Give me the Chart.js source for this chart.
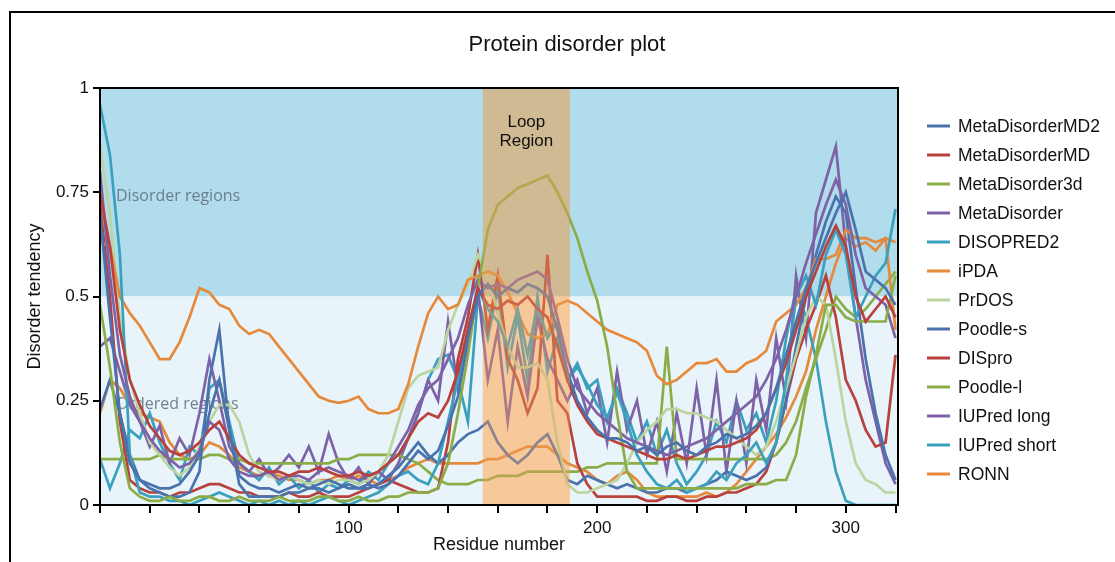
<!DOCTYPE html>
<html>
<head>
<meta charset="utf-8">
<script src="https://cdn.jsdelivr.net/npm/chart.js@4"></script>
<style>
  html, body { margin: 0; padding: 0; background: #fff; }
  #wrap { width: 1115px; height: 562px; position: relative; }
</style>
</head>
<body>
<div id="wrap"><canvas id="disorderChart"></canvas></div>
<script>
// residue positions (sampled every 4 residues)
const residues = [0,4,8,12,16,20,24,28,32,36, 40,44,48,52,56,60,64,68,72,76,
  80,84,88,92,96,100,104,108,112,116, 120,124,128,132,136,140,144,148,152,156,
  160,164,168,172,176,180,184,188,192,196, 200,204,208,212,216,220,224,228,232,236,
  240,244,248,252,256,260,264,268,272,276, 280,284,288,292,296,300,304,308,312,316, 320];

const metaDisorderMD2 = [0.70,0.45,0.22,0.10,0.06,0.05,0.04,0.04,0.05,0.08,
  0.12,0.22,0.30,0.18,0.07,0.05,0.04,0.04,0.03,0.04,
  0.05,0.04,0.05,0.06,0.05,0.04,0.04,0.05,0.04,0.05,
  0.07,0.10,0.13,0.11,0.13,0.19,0.26,0.40,0.50,0.53,
  0.50,0.52,0.51,0.53,0.52,0.50,0.42,0.32,0.25,0.21,
  0.18,0.16,0.16,0.15,0.13,0.14,0.12,0.14,0.15,0.13,
  0.12,0.14,0.15,0.17,0.16,0.17,0.19,0.22,0.28,0.36,
  0.44,0.52,0.58,0.64,0.70,0.75,0.66,0.56,0.54,0.52, 0.48];

const metaDisorderMD = [0.75,0.62,0.42,0.30,0.24,0.19,0.16,0.13,0.12,0.13,
  0.15,0.18,0.20,0.16,0.12,0.10,0.09,0.08,0.08,0.07,
  0.08,0.08,0.09,0.08,0.07,0.07,0.08,0.07,0.08,0.10,
  0.12,0.16,0.20,0.22,0.21,0.25,0.32,0.42,0.52,0.48,
  0.47,0.49,0.48,0.50,0.47,0.45,0.38,0.30,0.24,0.20,
  0.17,0.16,0.15,0.14,0.13,0.12,0.11,0.11,0.12,0.11,
  0.12,0.13,0.14,0.14,0.15,0.16,0.18,0.22,0.28,0.34,
  0.42,0.50,0.56,0.62,0.67,0.62,0.50,0.44,0.47,0.50, 0.45];

const metaDisorder3d = [0.48,0.33,0.15,0.04,0.02,0.01,0.01,0.02,0.01,0.01,
  0.02,0.02,0.01,0.01,0.02,0.01,0.01,0.01,0.02,0.01,
  0.01,0.01,0.02,0.02,0.01,0.01,0.02,0.01,0.01,0.02,
  0.02,0.03,0.03,0.03,0.04,0.10,0.22,0.36,0.52,0.66,
  0.72,0.74,0.76,0.77,0.78,0.79,0.75,0.70,0.64,0.56,
  0.49,0.38,0.22,0.08,0.04,0.04,0.04,0.04,0.04,0.04,
  0.04,0.04,0.04,0.04,0.04,0.05,0.05,0.05,0.06,0.06,
  0.12,0.26,0.36,0.48,0.48,0.45,0.44,0.44,0.44,0.44, 0.55];

const metaDisorder = [0.80,0.55,0.36,0.26,0.20,0.16,0.13,0.11,0.09,0.10,
  0.13,0.20,0.18,0.11,0.08,0.07,0.07,0.08,0.06,0.07,
  0.07,0.06,0.08,0.09,0.08,0.07,0.06,0.07,0.08,0.10,
  0.14,0.18,0.24,0.28,0.30,0.35,0.40,0.48,0.54,0.52,
  0.53,0.52,0.54,0.55,0.56,0.54,0.45,0.35,0.28,0.25,
  0.22,0.20,0.18,0.16,0.15,0.14,0.13,0.12,0.13,0.14,
  0.15,0.16,0.18,0.20,0.22,0.24,0.26,0.30,0.35,0.42,
  0.50,0.58,0.65,0.72,0.78,0.72,0.60,0.52,0.50,0.48, 0.40];

const disopred2 = [0.96,0.84,0.60,0.12,0.03,0.02,0.02,0.01,0.01,0.00,
  0.01,0.02,0.03,0.02,0.01,0.00,0.01,0.00,0.01,0.00,
  0.01,0.00,0.01,0.02,0.01,0.00,0.01,0.02,0.03,0.05,
  0.07,0.08,0.06,0.05,0.10,0.20,0.30,0.42,0.52,0.47,
  0.44,0.38,0.47,0.36,0.48,0.40,0.44,0.30,0.33,0.29,
  0.24,0.21,0.27,0.20,0.12,0.08,0.05,0.04,0.06,0.03,
  0.04,0.05,0.08,0.06,0.10,0.12,0.15,0.10,0.15,0.30,
  0.50,0.55,0.48,0.60,0.66,0.60,0.45,0.50,0.55,0.58, 0.71];

const iPDA = [0.63,0.62,0.50,0.46,0.43,0.39,0.35,0.35,0.39,0.45,
  0.52,0.51,0.48,0.47,0.43,0.41,0.42,0.41,0.38,0.35,
  0.32,0.29,0.26,0.25,0.245,0.25,0.26,0.23,0.22,0.22,
  0.23,0.29,0.38,0.46,0.50,0.47,0.48,0.54,0.55,0.56,
  0.55,0.51,0.46,0.41,0.40,0.41,0.48,0.49,0.48,0.46,
  0.44,0.42,0.41,0.40,0.39,0.37,0.31,0.29,0.30,0.32,
  0.34,0.34,0.35,0.32,0.32,0.34,0.35,0.37,0.44,0.46,
  0.48,0.52,0.59,0.59,0.60,0.66,0.64,0.64,0.63,0.64, 0.42];

const prDOS = [0.86,0.70,0.45,0.30,0.22,0.15,0.12,0.09,0.07,0.09,
  0.14,0.20,0.24,0.24,0.20,0.12,0.08,0.07,0.06,0.07,
  0.06,0.05,0.06,0.05,0.06,0.06,0.05,0.06,0.08,0.12,
  0.20,0.28,0.31,0.32,0.33,0.42,0.48,0.53,0.60,0.55,
  0.46,0.38,0.33,0.33,0.34,0.30,0.15,0.05,0.03,0.03,
  0.04,0.05,0.06,0.10,0.15,0.18,0.20,0.23,0.23,0.22,
  0.22,0.21,0.20,0.18,0.16,0.14,0.12,0.14,0.20,0.28,
  0.36,0.45,0.50,0.48,0.35,0.20,0.10,0.06,0.05,0.03, 0.03];

const poodleS = [0.23,0.30,0.22,0.12,0.06,0.04,0.03,0.02,0.02,0.03,
  0.08,0.30,0.42,0.18,0.05,0.02,0.02,0.02,0.02,0.03,
  0.03,0.04,0.04,0.03,0.04,0.05,0.04,0.04,0.05,0.07,
  0.09,0.12,0.15,0.12,0.10,0.12,0.15,0.17,0.18,0.20,
  0.15,0.12,0.10,0.12,0.15,0.17,0.12,0.06,0.05,0.07,
  0.06,0.05,0.04,0.05,0.04,0.03,0.03,0.04,0.04,0.03,
  0.04,0.05,0.06,0.08,0.07,0.06,0.07,0.09,0.15,0.25,
  0.38,0.50,0.60,0.68,0.74,0.70,0.52,0.35,0.22,0.12, 0.06];

const disPro = [0.72,0.50,0.20,0.06,0.04,0.03,0.03,0.02,0.03,0.03,
  0.04,0.05,0.05,0.04,0.03,0.03,0.02,0.02,0.02,0.03,
  0.02,0.02,0.03,0.02,0.02,0.02,0.03,0.04,0.05,0.06,
  0.05,0.04,0.03,0.03,0.04,0.15,0.35,0.45,0.60,0.42,
  0.55,0.35,0.30,0.22,0.28,0.60,0.25,0.22,0.10,0.05,
  0.02,0.02,0.02,0.02,0.02,0.01,0.01,0.02,0.02,0.01,
  0.01,0.02,0.02,0.03,0.03,0.04,0.05,0.08,0.15,0.25,
  0.35,0.42,0.48,0.55,0.45,0.30,0.25,0.18,0.14,0.15, 0.36];

const poodleL = [0.11,0.11,0.11,0.11,0.11,0.11,0.12,0.11,0.11,0.11,
  0.11,0.12,0.12,0.11,0.11,0.10,0.10,0.10,0.10,0.10,
  0.10,0.10,0.10,0.10,0.11,0.11,0.12,0.12,0.12,0.12,
  0.12,0.11,0.10,0.08,0.06,0.05,0.05,0.05,0.06,0.06,
  0.07,0.07,0.07,0.08,0.08,0.08,0.08,0.08,0.08,0.09,
  0.09,0.10,0.10,0.10,0.10,0.10,0.10,0.38,0.11,0.11,
  0.11,0.11,0.11,0.11,0.11,0.11,0.11,0.11,0.12,0.15,
  0.20,0.28,0.35,0.42,0.50,0.47,0.45,0.47,0.50,0.53, 0.56];

const iuPredLong = [0.38,0.40,0.32,0.24,0.20,0.14,0.19,0.10,0.16,0.12,
  0.22,0.35,0.25,0.14,0.10,0.08,0.11,0.07,0.09,0.12,
  0.09,0.14,0.08,0.17,0.10,0.06,0.09,0.05,0.08,0.06,
  0.10,0.16,0.22,0.30,0.25,0.44,0.28,0.38,0.52,0.30,
  0.42,0.20,0.38,0.26,0.45,0.35,0.30,0.25,0.30,0.22,
  0.28,0.15,0.32,0.18,0.25,0.12,0.20,0.08,0.22,0.10,
  0.28,0.12,0.30,0.08,0.25,0.10,0.30,0.18,0.40,0.25,
  0.55,0.40,0.70,0.78,0.86,0.62,0.45,0.30,0.20,0.10, 0.05];

const iuPredShort = [0.11,0.04,0.10,0.18,0.16,0.22,0.15,0.10,0.06,0.14,
  0.12,0.28,0.30,0.20,0.10,0.08,0.06,0.09,0.05,0.07,
  0.04,0.06,0.03,0.05,0.04,0.06,0.05,0.08,0.06,0.10,
  0.12,0.16,0.22,0.30,0.35,0.36,0.30,0.20,0.50,0.40,
  0.52,0.33,0.45,0.30,0.50,0.32,0.40,0.30,0.34,0.28,
  0.30,0.20,0.28,0.22,0.15,0.20,0.12,0.18,0.10,0.05,
  0.08,0.12,0.20,0.15,0.25,0.18,0.22,0.15,0.25,0.40,
  0.52,0.45,0.35,0.20,0.08,0.01,0.00,0.00,0.00,0.00, 0.00];

const ronn = [0.22,0.30,0.28,0.24,0.22,0.21,0.20,0.15,0.12,0.11,
  0.12,0.15,0.14,0.12,0.09,0.08,0.07,0.08,0.07,0.06,
  0.06,0.05,0.06,0.06,0.07,0.06,0.07,0.06,0.05,0.06,
  0.07,0.09,0.10,0.11,0.10,0.10,0.10,0.10,0.10,0.11,
  0.11,0.12,0.13,0.14,0.14,0.14,0.12,0.10,0.09,0.08,
  0.06,0.05,0.07,0.08,0.06,0.03,0.02,0.02,0.02,0.02,
  0.02,0.03,0.02,0.03,0.05,0.08,0.11,0.14,0.17,0.21,
  0.26,0.32,0.42,0.50,0.58,0.64,0.62,0.63,0.61,0.64, 0.63];

const seriesNames = ['MetaDisorderMD2','MetaDisorderMD','MetaDisorder3d','MetaDisorder','DISOPRED2','iPDA',
  'PrDOS','Poodle-s','DISpro','Poodle-l','IUPred long','IUPred short','RONN'];
const seriesValues = [metaDisorderMD2, metaDisorderMD, metaDisorder3d, metaDisorder, disopred2, iPDA,
  prDOS, poodleS, disPro, poodleL, iuPredLong, iuPredShort, ronn];

const xTickValues = [0,20,40,60,80,100,120,140,160,180,200,220,240,260,280,300,320];
const xTickLabels = [100,200,300];
const yTickValues = [0,0.25,0.5,0.75,1];
const yTickLabels = ['0','0.25','0.5','0.75','1'];
const loopStart = 154;
const loopEnd = 189;

const BLUE = '#4a72ad', RED = '#b8403d', GREEN = '#8aad48', PURPLE = '#7e62a7',
      TEAL = '#3aa0be', ORANGE = '#e6893b', LIGHTGREEN = '#bcd5a0';
const lineColors = [BLUE, RED, GREEN, PURPLE, TEAL, ORANGE, LIGHTGREEN, BLUE, RED, GREEN, PURPLE, TEAL, ORANGE];

const FONT = '"Liberation Sans", Arial, sans-serif';

const decor = {
  id: 'decor',
  beforeDraw(chart) {
    const {ctx, chartArea: a, scales: {x, y}} = chart;
    ctx.save();
    ctx.fillStyle = '#fff';
    ctx.fillRect(0, 0, chart.width, chart.height);
    const mid = y.getPixelForValue(0.5);
    ctx.fillStyle = '#b0dcec';
    ctx.fillRect(a.left, a.top, a.width, mid - a.top);
    ctx.fillStyle = '#e8f4f9';
    ctx.fillRect(a.left, mid, a.width, a.bottom - mid);
    const lx0 = x.getPixelForValue(loopStart), lx1 = x.getPixelForValue(loopEnd);
    ctx.fillStyle = '#b9cbb9';
    ctx.fillRect(lx0, a.top, lx1 - lx0, mid - a.top);
    ctx.fillStyle = '#fae3c5';
    ctx.fillRect(lx0, mid, lx1 - lx0, a.bottom - mid);
    ctx.font = '16px "Open Sans", sans-serif';
    ctx.fillStyle = 'rgba(100,116,128,0.9)';
    ctx.textBaseline = 'middle';
    ctx.textAlign = 'left';
    ctx.fillText('Disorder regions', a.left + 16, y.getPixelForValue(0.741));
    ctx.fillText('Ordered regions', a.left + 16, y.getPixelForValue(0.242));
    ctx.restore();
  },
  afterDatasetsDraw(chart) {
    const {ctx, chartArea: a, scales: {x}} = chart;
    const lx0 = x.getPixelForValue(loopStart), lx1 = x.getPixelForValue(loopEnd);
    ctx.save();
    ctx.fillStyle = 'rgba(240,160,90,0.4)';
    ctx.fillRect(lx0, a.top + 1, lx1 - lx0, a.height - 2);
    ctx.restore();
  },
  afterDraw(chart) {
    const {ctx, chartArea: a, scales: {x}} = chart;
    ctx.save();
    // plot box
    ctx.strokeStyle = '#000';
    ctx.lineWidth = 2;
    ctx.strokeRect(a.left, a.top, a.width, a.height);
    // title
    ctx.fillStyle = '#111';
    ctx.textAlign = 'center';
    ctx.textBaseline = 'middle';
    ctx.font = '22px ' + FONT;
    ctx.fillText('Protein disorder plot', 567, 45);
    // loop label
    const lc = (x.getPixelForValue(loopStart) + x.getPixelForValue(loopEnd)) / 2;
    ctx.font = '17px ' + FONT;
    ctx.fillText('Loop', lc, 122);
    ctx.fillText('Region', lc, 141);
    // legend
    ctx.textAlign = 'left';
    ctx.font = '17.5px ' + FONT;
    chart.data.datasets.forEach((ds, i) => {
      const yy = 126 + i * 29;
      ctx.strokeStyle = ds.borderColor;
      ctx.lineWidth = 3;
      ctx.beginPath();
      ctx.moveTo(927, yy);
      ctx.lineTo(950, yy);
      ctx.stroke();
      ctx.fillStyle = '#111';
      ctx.fillText(ds.label, 958, yy + 1);
    });
    // outer frame
    ctx.fillStyle = '#000';
    ctx.fillRect(9, 11, 2, chart.height - 11);
    ctx.fillRect(9, 11, chart.width - 9, 2);
    ctx.restore();
  }
};

new Chart(document.getElementById('disorderChart'), {
  type: 'line',
  data: {
    labels: residues,
    datasets: seriesNames.map((name, i) => ({
      label: name,
      data: residues.map((r, j) => ({x: r, y: seriesValues[i][j]})),
      borderColor: lineColors[i],
      backgroundColor: lineColors[i],
      borderWidth: 2.7,
      pointRadius: 0,
      tension: 0,
      fill: false
    }))
  },
  options: {
    responsive: true,
    maintainAspectRatio: false,
    animation: false,
    layout: { padding: { left: 0, right: 217, top: 88, bottom: 0 } },
    plugins: {
      legend: { display: false },
      title: { display: false },
      tooltip: { enabled: false }
    },
    scales: {
      x: {
        type: 'linear',
        min: 0,
        max: 321,
        afterBuildTicks: (s) => { s.ticks = xTickValues.map(v => ({value: v})); },
        afterFit: (s) => { s.height = 57; },
        ticks: {
          autoSkip: false,
          maxRotation: 0,
          padding: 5,
          color: '#111',
          font: { family: FONT, size: 17 },
          callback: (v) => xTickLabels.includes(v) ? String(v) : ''
        },
        grid: { drawOnChartArea: false, drawTicks: true, tickLength: 8, color: '#000', lineWidth: 2 },
        border: { display: true, color: '#000', width: 2 },
        title: {
          display: true,
          text: 'Residue number',
          color: '#111',
          font: { family: FONT, size: 18 },
          padding: { top: 0, bottom: 6 }
        }
      },
      y: {
        min: 0,
        max: 1,
        afterBuildTicks: (s) => { s.ticks = yTickValues.map(v => ({value: v})); },
        afterFit: (s) => { s.width = 100; },
        ticks: {
          autoSkip: false,
          padding: 4,
          color: '#111',
          font: { family: FONT, size: 17 },
          callback: (v) => yTickLabels[yTickValues.indexOf(v)]
        },
        grid: { drawOnChartArea: false, drawTicks: true, tickLength: 7, color: '#000', lineWidth: 2 },
        border: { display: true, color: '#000', width: 2 },
        title: {
          display: true,
          text: 'Disorder tendency',
          color: '#111',
          font: { family: FONT, size: 18 },
          padding: { top: 24, bottom: 0 }
        }
      }
    }
  },
  plugins: [decor]
});
</script>
</body>
</html>
